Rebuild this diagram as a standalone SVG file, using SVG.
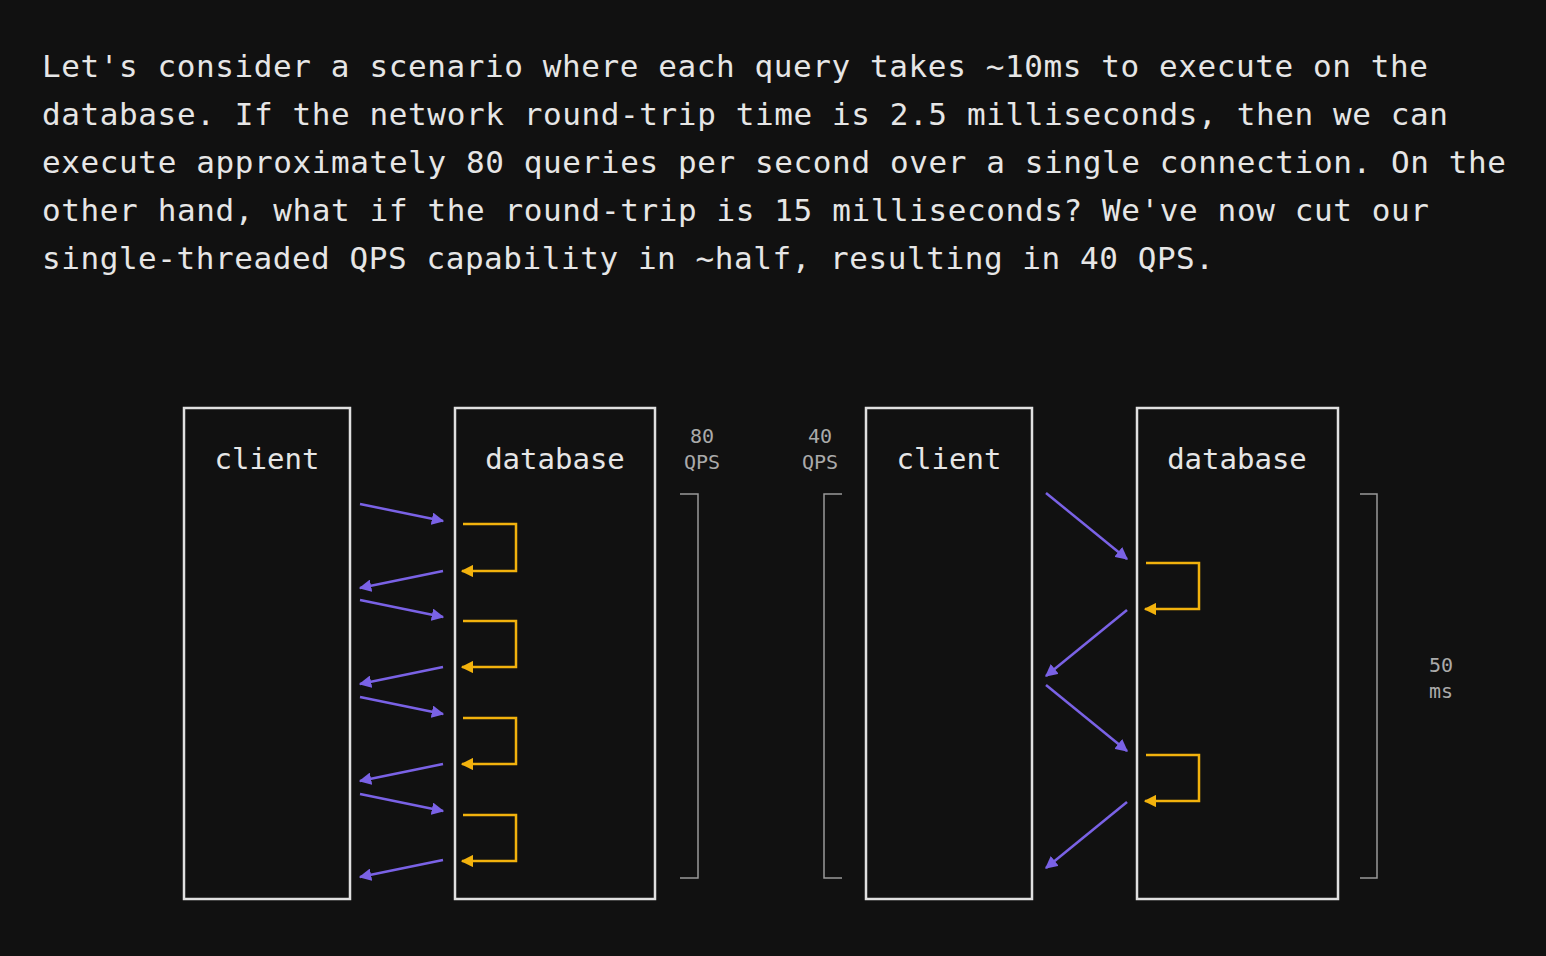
<svg xmlns="http://www.w3.org/2000/svg" width="1546" height="956" viewBox="0 0 1546 956">
<style>
.t{font-family:"DejaVu Sans Mono","Liberation Mono",monospace;font-size:31px;fill:#e6e6e6}
.lb{font-family:"DejaVu Sans Mono","Liberation Mono",monospace;font-size:29px;fill:#e6e6e6;text-anchor:middle}
.sm{font-family:"DejaVu Sans Mono","Liberation Mono",monospace;font-size:20px;fill:#aaa;text-anchor:middle}
.box{fill:none;stroke:#e0e0e0;stroke-width:2.5}
.br{fill:none;stroke:#999;stroke-width:1.5}
.p{stroke:#7a62e6;stroke-width:2.5;fill:none;marker-end:url(#ap)}
.y{stroke:#f2b20d;stroke-width:2.5;fill:none;marker-end:url(#ay)}
</style>
<defs>
<marker id="ap" viewBox="0 0 10 10" refX="9" refY="5" markerWidth="5" markerHeight="5" orient="auto" markerUnits="strokeWidth"><path d="M0,0L10,5L0,10z" fill="#7a62e6"/></marker>
<marker id="ay" viewBox="0 0 10 10" refX="9" refY="5" markerWidth="5" markerHeight="5" orient="auto" markerUnits="strokeWidth"><path d="M0,0L10,5L0,10z" fill="#f2b20d"/></marker>
</defs>
<rect width="1546" height="956" fill="#111"/>
<g id="para">
<text class="t" x="42" y="77" textLength="1386">Let's consider a scenario where each query takes ~10ms to execute on the</text>
<text class="t" x="42" y="125" textLength="1406">database. If the network round-trip time is 2.5 milliseconds, then we can</text>
<text class="t" x="42" y="173" textLength="1464">execute approximately 80 queries per second over a single connection. On the</text>
<text class="t" x="42" y="221" textLength="1387">other hand, what if the round-trip is 15 milliseconds? We've now cut our</text>
<text class="t" x="42" y="269" textLength="1172">single-threaded QPS capability in ~half, resulting in 40 QPS.</text>
</g>
<g id="client1"><rect class="box" x="184" y="408" width="166" height="491"/><text class="lb" x="267" y="469">client</text></g>
<g id="db1"><rect class="box" x="455" y="408" width="200" height="491"/><text class="lb" x="555" y="469">database</text></g>
<g id="qps80"><text class="sm" x="702" y="443">80</text><text class="sm" x="702" y="469">QPS</text><path class="br" d="M680,494H698V878H680"/></g>
<g id="client2"><rect class="box" x="866" y="408" width="166" height="491"/><text class="lb" x="949" y="469">client</text></g>
<g id="db2"><rect class="box" x="1137" y="408" width="201" height="491"/><text class="lb" x="1237" y="469">database</text></g>
<g id="qps40"><text class="sm" x="820" y="443">40</text><text class="sm" x="820" y="469">QPS</text><path class="br" d="M842,494H824V878H842"/></g>
<g id="ms50"><text class="sm" x="1441" y="672">50</text><text class="sm" x="1441" y="698">ms</text><path class="br" d="M1360,494H1377V878H1360"/></g>
<g id="connectors">
<path class="p" d="M360,504L443,521"/><path class="p" d="M443,571L360,588"/>
<path class="p" d="M360,600L443,617"/><path class="p" d="M443,667L360,684"/>
<path class="p" d="M360,697L443,714"/><path class="p" d="M443,764L360,781"/>
<path class="p" d="M360,794L443,811"/><path class="p" d="M443,860L360,877"/>
<path class="y" d="M463,524H516V571H462"/>
<path class="y" d="M463,621H516V667H462"/>
<path class="y" d="M463,718H516V764H462"/>
<path class="y" d="M463,815H516V861H462"/>
<path class="p" d="M1046,493L1127,559"/><path class="p" d="M1127,610L1046,676"/>
<path class="p" d="M1046,685L1127,751"/><path class="p" d="M1127,802L1046,868"/>
<path class="y" d="M1146,563H1199V609H1145"/>
<path class="y" d="M1146,755H1199V801H1145"/>
</g>
</svg>
